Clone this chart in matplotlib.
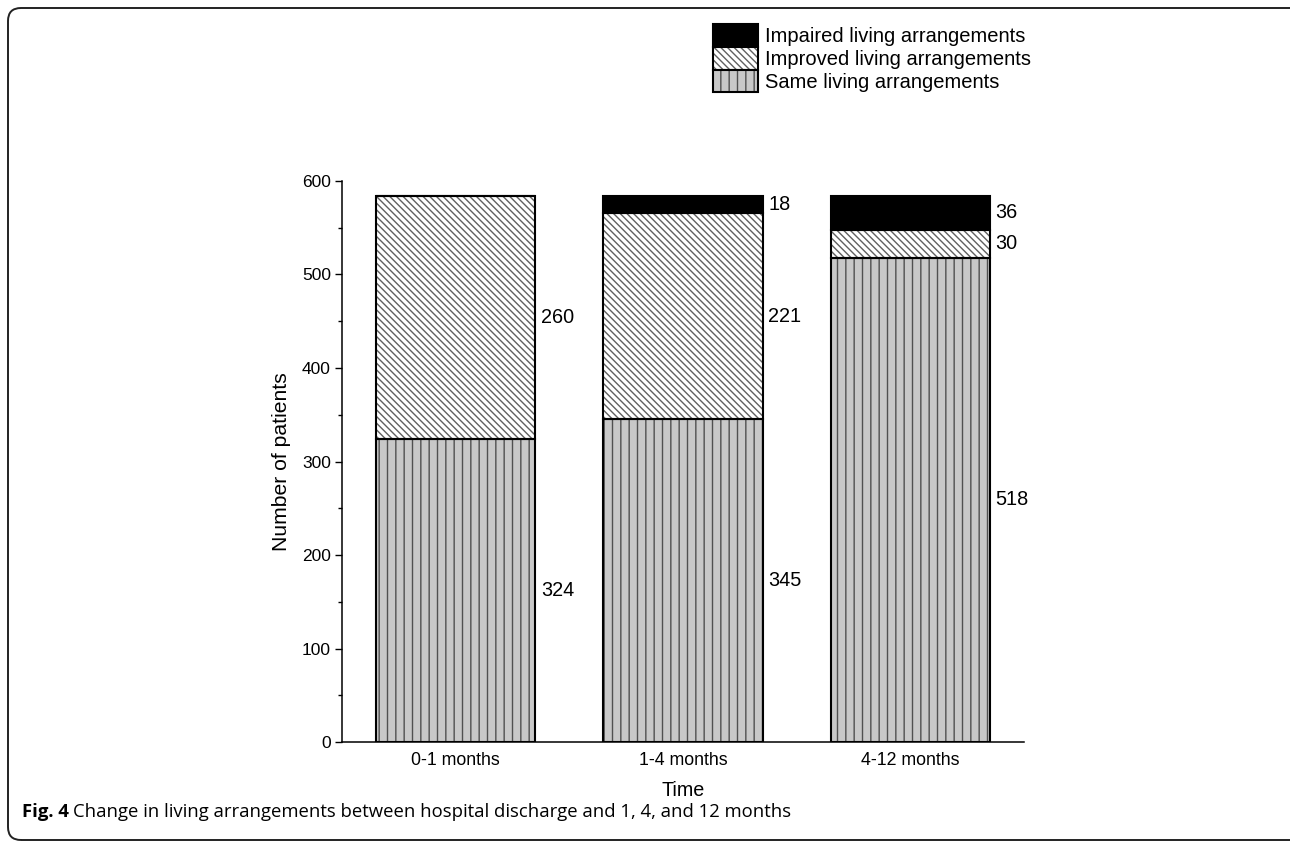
"""
Change in living arrangements - stacked bars
"""

import matplotlib.pyplot as plt
import numpy as np
from matplotlib.patches import FancyBboxPatch
from matplotlib.legend_handler import HandlerTuple

categories = ['0-1 months', '1-4 months', '4-12 months']
same = [324, 345, 518]
improved = [260, 221, 30]
impaired = [0, 18, 36]

plt.rcParams['font.family'] = ['Liberation Sans', 'DejaVu Sans']
plt.rcParams['hatch.linewidth'] = 1.0

fig = plt.figure(figsize=(12.9, 8.43), dpi=100)
ax = fig.add_axes([0.2651, 0.1198, 0.5287, 0.6655])

x = np.arange(len(categories))
w = 0.7
same = np.array(same)
improved = np.array(improved)
impaired = np.array(impaired)

# capa con el relleno y el rayado (sin borde), luego el contorno negro
series = [
    ('Same living arrangements', same, np.zeros(3), '#c8c8c8', '||', '#505050'),
    ('Improved living arrangements', improved, same, 'white', '\\\\\\\\\\', '#606060'),
    ('Impaired living arrangements', impaired, same + improved, 'black', '', 'black'),
]
handles = {}
for name, vals, bottom, fc, hatch, hc in series:
    b1 = ax.bar(x, vals, w, bottom=bottom, color=fc, hatch=hatch,
                edgecolor=hc, linewidth=0, zorder=2)
    b2 = ax.bar(x, vals, w, bottom=bottom, fill=False, edgecolor='black',
                linewidth=1.5, zorder=3)
    handles[name] = (b1[0], b2[0])
    # etiquetas a la derecha de cada segmento
    for xi, v, bt in zip(x, vals, bottom):
        if v > 0:
            ax.annotate(str(v), (xi + w / 2, bt + v / 2), xytext=(4, 0),
                        textcoords='offset points', va='center', ha='left',
                        fontsize=14.3)

ax.set_xlim(-0.5, 2.5)
ax.set_ylim(0, 600)
ax.set_xticks(x)
ax.set_xticklabels(categories)
ax.set_yticks(range(0, 601, 100))
ax.set_yticks(range(50, 600, 100), minor=True)
ax.tick_params(axis='x', length=0, pad=7, labelsize=12.8)
ax.tick_params(axis='y', which='major', length=5, width=1, pad=3, labelsize=12.5)
ax.tick_params(axis='y', which='minor', length=3, width=1)
for s in ['top', 'right']:
    ax.spines[s].set_visible(False)
for s in ['left', 'bottom']:
    ax.spines[s].set_linewidth(1.1)
ax.set_xlabel('Time', fontsize=14.2, labelpad=9)
ax.set_ylabel('Number of patients', fontsize=15.2, labelpad=8)

order = ['Impaired living arrangements', 'Improved living arrangements',
         'Same living arrangements']
fig.legend([handles[n] for n in order], order, loc='upper left',
           bbox_to_anchor=(0.5525, 0.971), frameon=False, fontsize=14.5,
           handlelength=2.24, handleheight=1.35, labelspacing=0.0,
           handletextpad=0.35, borderpad=0, borderaxespad=0,
           handler_map={tuple: HandlerTuple(ndivide=1)})

# marco redondeado
frame = FancyBboxPatch((0.08, 0.03), 12.96, 8.32,
                       boxstyle='round,pad=0,rounding_size=0.13',
                       transform=fig.dpi_scale_trans, fill=False,
                       edgecolor='#222222', linewidth=1.4)
fig.patches.append(frame)

cap_font = ['Liberation Sans Narrow', 'Open Sans', 'DejaVu Sans']
fig.text(0.017, 0.037, 'Fig. 4', fontsize=13.3, fontweight='bold',
         family=cap_font, va='center', ha='left')
fig.text(0.0565, 0.037,
         'Change in living arrangements between hospital discharge and 1, 4, and 12 months',
         fontsize=13.3, family=cap_font, va='center', ha='left')

fig.savefig('out.png', dpi=100)
